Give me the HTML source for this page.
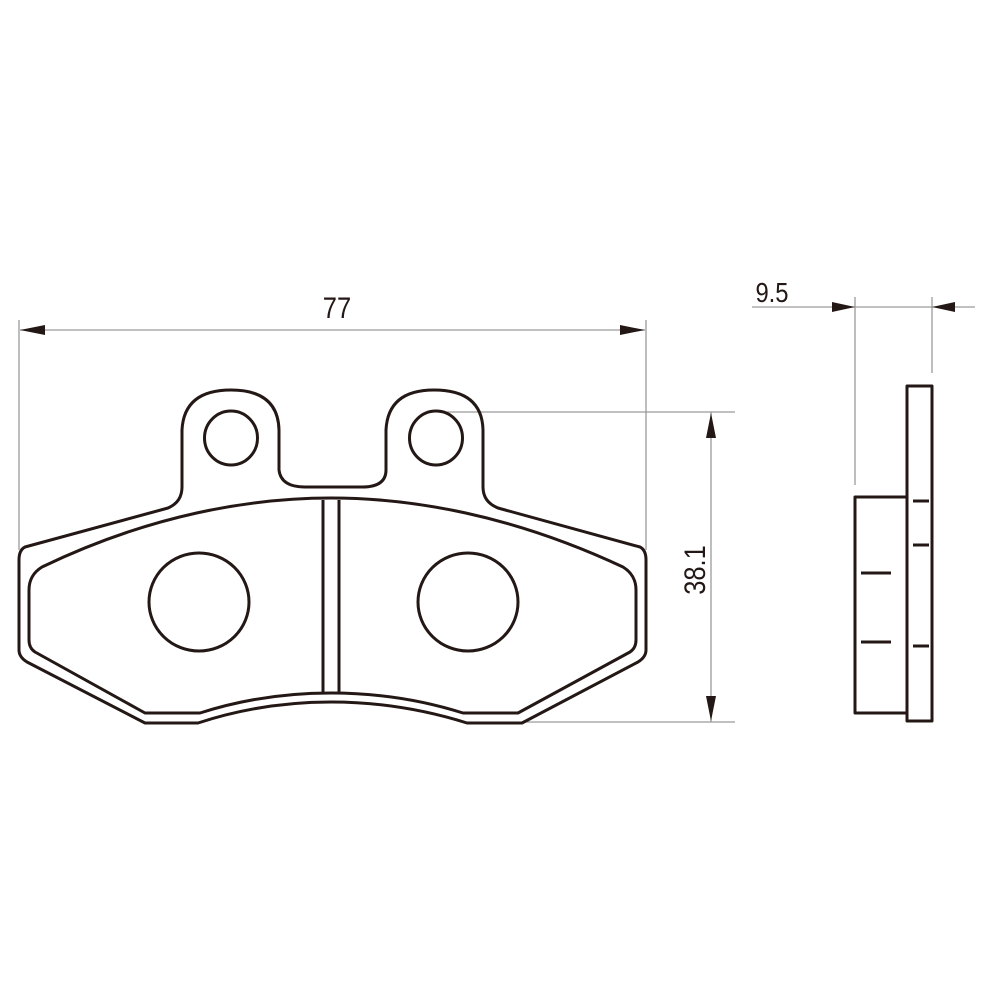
<!DOCTYPE html>
<html><head><meta charset="utf-8"><style>
html,body{margin:0;padding:0;background:#fff;}
svg{display:block;}
text{font-family:"Liberation Sans",sans-serif;fill:#231815;}
</style></head><body>
<svg width="1000" height="1000" viewBox="0 0 1000 1000" xmlns="http://www.w3.org/2000/svg">
<g stroke="#9a9a9a" stroke-width="1.3" fill="none">
  <!-- 77 dimension -->
  <line x1="19" y1="320" x2="19" y2="550"/>
  <line x1="646" y1="320" x2="646" y2="550"/>
  <line x1="20" y1="330" x2="645" y2="330"/>
  <!-- 38.1 dimension -->
  <line x1="437" y1="412" x2="735" y2="412"/>
  <line x1="522" y1="722" x2="735" y2="722"/>
  <line x1="711" y1="412" x2="711" y2="722"/>
  <!-- 9.5 -->
  <line x1="752" y1="307" x2="975" y2="307"/>
  <line x1="855" y1="297" x2="855" y2="485"/>
  <line x1="932" y1="297" x2="932" y2="373"/>
</g>
<g fill="#231815">
  <polygon points="20,330 45,325 45,335"/>
  <polygon points="645,330 620,325 620,335"/>
  <polygon points="711,413 706,438 716,438"/>
  <polygon points="711,721 706,696 716,696"/>
  <polygon points="855,307 832,302 832,312"/>
  <polygon points="932,307 955,302 955,312"/>
</g>
<text x="337" y="318" font-size="30" text-anchor="middle" transform="translate(337,0) scale(0.85,1) translate(-337,0)">77</text>
<text x="0" y="0" font-size="30" text-anchor="middle" transform="translate(705,570) rotate(-90) scale(0.85,1)">38.1</text>
<text x="772" y="302" font-size="28" text-anchor="middle" transform="translate(772,0) scale(0.85,1) translate(-772,0)">9.5</text>

<g stroke="#231815" stroke-width="3" fill="none" stroke-linejoin="round">
  <!-- outer outline -->
  <path d="M25,547 L168,508 Q182,502 182,487 L182,430 Q184,390 231,390 Q278,390 279,430 L279,470 Q281,487 305,487 L362,487 Q386,487 386,470 L386,430 Q388,390 434,390 Q482,390 483,430 L483,487 Q483,502 498,508 L640,547 Q646,550 646,560 L646,650 Q646,657 638,662 L522,723 L467,723 Q400,702 331,702 Q262,702 198,723 L145,723 L27,662 Q19,657 19,650 L19,560 Q19,550 25,547 Z"/>
  <!-- inner outline -->
  <path d="M42,567 C150,515 250,498 331,498 C412,498 512,515 623,567 Q636,575 636,590 L636,640 Q636,648 630,652 L518,713 L463,713 Q400,693 331,693 Q262,693 200,713 L145,713 L35,652 Q29,648 29,640 L29,590 Q29,575 42,567 Z"/>
  <line x1="323" y1="500" x2="323" y2="693"/>
  <line x1="339" y1="500" x2="339" y2="693"/>
  <ellipse cx="231" cy="438" rx="26.5" ry="27"/>
  <ellipse cx="436" cy="438" rx="26.5" ry="27"/>
  <ellipse cx="199" cy="602" rx="50" ry="49"/>
  <ellipse cx="468" cy="602" rx="50" ry="49"/>
  <!-- side view -->
  <rect x="907" y="386" width="25" height="335"/>
  <rect x="855" y="497" width="52" height="216"/>
  <line x1="913" y1="501" x2="929" y2="501"/>
  <line x1="913" y1="545" x2="929" y2="545"/>
  <line x1="913" y1="646" x2="929" y2="646"/>
  <line x1="861" y1="573" x2="891" y2="573"/>
  <line x1="861" y1="642" x2="891" y2="642"/>
</g>
</svg>
</body></html>
